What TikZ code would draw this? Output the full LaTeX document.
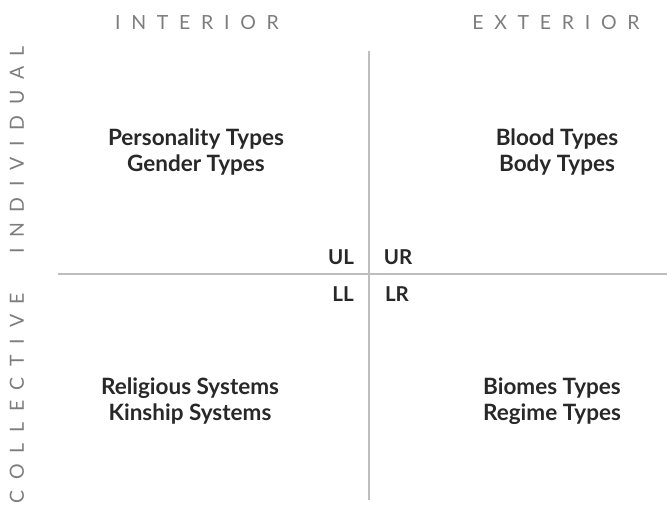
\documentclass[tikz,border=0pt]{standalone}
\usepackage{fontspec}
\setmainfont{Lato}
\newfontfamily\spacedfont[LetterSpace=55]{Lato}
\definecolor{quadcolor0000}{RGB}{40,40,40}
\definecolor{quadcolor0001}{RGB}{125,125,125}
\definecolor{quadcolor0002}{RGB}{190,190,190}

\begin{document}
\begin{tikzpicture}[x=1pt,y=-1pt
,qstyle0/.style={color=quadcolor0002,line width=1.5pt}
,qstyle1/.style={color=quadcolor0001,font=\spacedfont\fontsize{19.5}{22}\selectfont,inner sep=0pt}
,qstyle2/.style={color=quadcolor0000,font=\bfseries\fontsize{22.5}{26}\selectfont,align=center,inner sep=0pt}
,qstyle3/.style={color=quadcolor0000,font=\bfseries\fontsize{20.5}{22}\selectfont,inner sep=0pt}
]
\useasboundingbox (0,0) rectangle (667,512);
\coordinate (vtop) at (369,51);
\coordinate (vbot) at (369,500);
\coordinate (hleft) at (58,274);
\coordinate (hright) at (667,274);
\draw[qstyle0] (vtop) -- (vbot);
\draw[qstyle0] (hleft) -- (hright);
\node[qstyle1] (interior) at (197,23) {INTERIOR};
\node[qstyle1] (exterior) at (556,23) {EXTERIOR};
\node[qstyle1,rotate=90] (individual) at (17,150) {INDIVIDUAL};
\node[qstyle1,rotate=90] (collective) at (17,398) {COLLECTIVE};
\node[qstyle2] (ul) at (196,152) {Personality Types\\Gender Types};
\node[qstyle2] (ur) at (557,152) {Blood Types\\Body Types};
\node[qstyle2] (ll) at (190,401) {Religious Systems\\Kinship Systems};
\node[qstyle2] (lr) at (552,401) {Biomes Types\\Regime Types};
\node[qstyle3] (ulmark) at (341,257) {UL};
\node[qstyle3] (urmark) at (398,257) {UR};
\node[qstyle3] (llmark) at (343,294) {LL};
\node[qstyle3] (lrmark) at (397,294) {LR};
\end{tikzpicture}
\end{document}
